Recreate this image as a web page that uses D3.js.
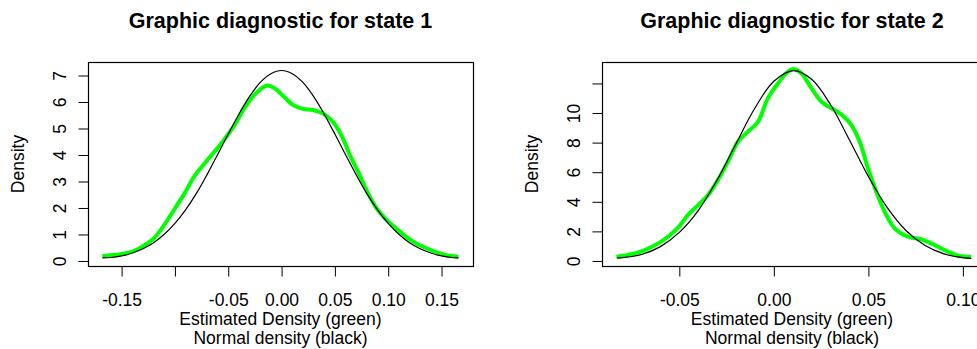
<!DOCTYPE html>
<html>
<head>
<meta charset="utf-8">
<script src="https://cdn.jsdelivr.net/npm/d3@7"></script>
<style>
  body { margin: 0; background: #fff; }
  svg text { font-family: "Liberation Sans", Arial, sans-serif; fill: #000; }
  .axis path { display: none; }
  .axis line { stroke: #000; }
</style>
</head>
<body>
<svg id="diag" width="977" height="349"></svg>
<script>
// state 1: estimated density (green) and normal density (black)
const state1GreenX = [-0.168, -0.151, -0.138, -0.129, -0.119, -0.110, -0.101, -0.091, -0.082, -0.072, -0.063, -0.054, -0.044, -0.035, -0.025, -0.0135, -0.0066, 0.003, 0.0106, 0.020, 0.0294, 0.0388, 0.048, 0.056, 0.064, 0.0717, 0.0796, 0.089, 0.0984, 0.111, 0.1234, 0.136, 0.1516, 0.1657];
const state1GreenY = [0.19, 0.25, 0.38, 0.58, 0.88, 1.36, 1.92, 2.55, 3.18, 3.69, 4.12, 4.57, 5.13, 5.76, 6.29, 6.62, 6.52, 6.17, 5.89, 5.74, 5.70, 5.57, 5.26, 4.75, 4.00, 3.37, 2.68, 1.99, 1.55, 1.11, 0.73, 0.48, 0.25, 0.16];
const state1BlackX = [-0.168, -0.16, -0.15, -0.14, -0.13, -0.12, -0.11, -0.10, -0.09, -0.08, -0.07, -0.06, -0.05, -0.04, -0.03, -0.02, -0.01, 0.0, 0.01, 0.02, 0.03, 0.04, 0.05, 0.06, 0.07, 0.08, 0.09, 0.10, 0.11, 0.12, 0.13, 0.14, 0.15, 0.16, 0.166];
const state1BlackY = [0.12, 0.13, 0.19, 0.30, 0.46, 0.69, 1.01, 1.42, 1.93, 2.54, 3.25, 4.01, 4.79, 5.54, 6.21, 6.74, 7.07, 7.19, 7.07, 6.74, 6.21, 5.54, 4.79, 4.01, 3.25, 2.54, 1.93, 1.42, 1.01, 0.69, 0.46, 0.30, 0.19, 0.13, 0.12];

// state 2
const state2GreenX = [-0.0833, -0.0753, -0.0683, -0.0612, -0.056, -0.0507, -0.0454, -0.040, -0.0348, -0.0296, -0.0243, -0.019, -0.0137, -0.0084, -0.0032, 0.0021, 0.0074, 0.0102, 0.0146, 0.0199, 0.0252, 0.0305, 0.0357, 0.041, 0.0454, 0.0498, 0.0542, 0.0586, 0.0639, 0.0709, 0.078, 0.085, 0.092, 0.0982, 0.1044];
const state2GreenY = [0.29, 0.45, 0.74, 1.19, 1.64, 2.25, 3.11, 3.78, 4.46, 5.47, 6.71, 8.06, 8.74, 9.41, 10.99, 12.0, 12.79, 12.97, 12.68, 11.67, 10.76, 10.32, 9.91, 9.19, 8.06, 6.26, 4.68, 3.33, 2.21, 1.64, 1.47, 1.08, 0.63, 0.34, 0.29];
const state2BlackX = [-0.083, -0.08, -0.07, -0.06, -0.05, -0.04, -0.03, -0.02, -0.01, 0.0, 0.0105, 0.02, 0.03, 0.04, 0.05, 0.06, 0.07, 0.08, 0.09, 0.10, 0.1044];
const state2BlackY = [0.20, 0.22, 0.44, 0.97, 1.93, 3.41, 5.48, 7.93, 10.34, 12.15, 12.87, 12.28, 10.56, 8.18, 5.71, 3.60, 2.04, 1.04, 0.48, 0.22, 0.18];

// axes
const state1XTicks = [-0.15, -0.10, -0.05, 0.00, 0.05, 0.10, 0.15];
const state1XLabels = ["-0.15", "", "-0.05", "0.00", "0.05", "0.10", "0.15"];
const state1YTicks = [0, 1, 2, 3, 4, 5, 6, 7];
const state1YLabels = ["0", "1", "2", "3", "4", "5", "6", "7"];
const state2XTicks = [-0.05, 0.00, 0.05, 0.10];
const state2XLabels = ["-0.05", "0.00", "0.05", "0.10"];
const state2YTicks = [0, 2, 4, 6, 8, 10, 12];
const state2YLabels = ["0", "2", "4", "6", "8", "10", ""];

const titles = ["Graphic diagnostic for state 1", "Graphic diagnostic for state 2"];
const xLabel1 = "Estimated Density (green)";
const xLabel2 = "Normal density (black)";
const yLabel = "Density";

const svg = d3.select("svg#diag");

const panels = [
    {
        title: titles[0], left: 88, right: 473,
        xDomain: [-0.1815, 0.1795], yDomain: [-0.19, 7.51],
        green: d3.zip(state1GreenX, state1GreenY), black: d3.zip(state1BlackX, state1BlackY),
        xTicks: state1XTicks, xLabels: state1XLabels, yTicks: state1YTicks, yLabels: state1YLabels
    },
    {
        title: titles[1], left: 602, right: 982,
        xDomain: [-0.0909, 0.1101], yDomain: [-0.34, 13.45],
        green: d3.zip(state2GreenX, state2GreenY), black: d3.zip(state2BlackX, state2BlackY),
        xTicks: state2XTicks, xLabels: state2XLabels, yTicks: state2YTicks, yLabels: state2YLabels
    }
];
const plotTop = 62, plotBottom = 266;
const fontSize = 17.5;

panels.forEach(p => {
    const g = svg.append("g");
    const x = d3.scaleLinear().domain(p.xDomain).range([p.left, p.right]);
    const y = d3.scaleLinear().domain(p.yDomain).range([plotBottom, plotTop]);
    const mid = (p.left + p.right) / 2;

    const line = d3.line().x(d => x(d[0])).y(d => y(d[1])).curve(d3.curveCatmullRom.alpha(0.5));

    g.append("path").datum(p.green)
        .attr("d", line).attr("fill", "none")
        .attr("stroke", "#00ff00").attr("stroke-width", 4);
    g.append("path").datum(p.black)
        .attr("d", line).attr("fill", "none")
        .attr("stroke", "#000").attr("stroke-width", 1.2);

    // box
    g.append("rect")
        .attr("x", p.left + 0.5).attr("y", plotTop + 0.5)
        .attr("width", p.right - p.left).attr("height", plotBottom - plotTop)
        .attr("fill", "none").attr("stroke", "#000").attr("stroke-width", 1.2);

    // x axis
    const bottomAxis = d3.axisBottom(x).tickValues(p.xTicks)
        .tickSize(10).tickPadding(29)
        .tickFormat((d, i) => p.xLabels[i]);
    g.append("g").attr("class", "x axis")
        .attr("transform", `translate(0,${plotBottom + 0.5})`)
        .call(bottomAxis)
        .selectAll("text").attr("font-size", fontSize).attr("dy", "0");

    // y axis
    const leftAxis = d3.axisLeft(y).tickValues(p.yTicks)
        .tickSize(10).tickFormat("");
    const yAxisG = g.append("g").attr("class", "y axis")
        .attr("transform", `translate(${p.left + 0.5},0)`)
        .call(leftAxis);
    yAxisG.selectAll("g.tick").append("text")
        .attr("transform", "translate(-22.5,0) rotate(-90)")
        .attr("text-anchor", "middle")
        .attr("font-size", fontSize)
        .text((d, i) => p.yLabels[i]);

    // titles and labels
    g.append("text").attr("x", mid).attr("y", 28)
        .attr("text-anchor", "middle").attr("font-weight", "bold").attr("font-size", 21.5)
        .text(p.title);
    g.append("text").attr("x", mid).attr("y", 325)
        .attr("text-anchor", "middle").attr("font-size", fontSize).text(xLabel1);
    g.append("text").attr("x", mid).attr("y", 344)
        .attr("text-anchor", "middle").attr("font-size", fontSize).text(xLabel2);
    g.append("text")
        .attr("transform", `translate(${p.left - 64},${(plotTop + plotBottom) / 2}) rotate(-90)`)
        .attr("text-anchor", "middle").attr("font-size", fontSize)
        .text(yLabel);
});
</script>
</body>
</html>
